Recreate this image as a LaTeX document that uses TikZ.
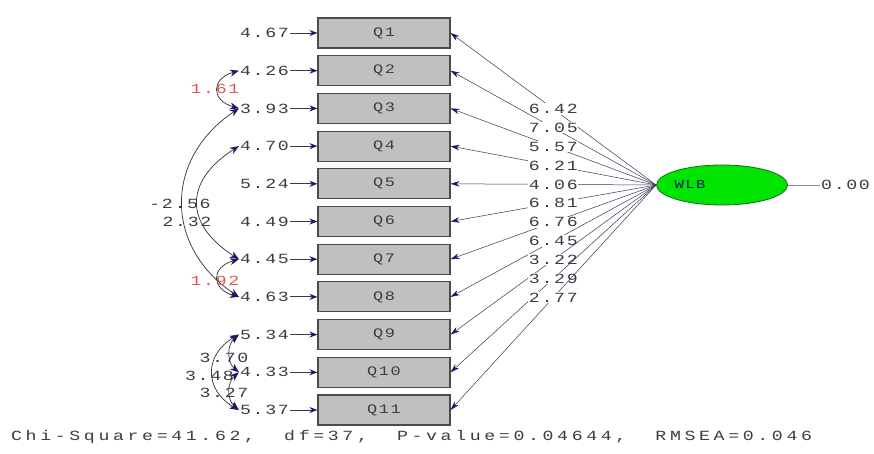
\documentclass[tikz,border=0pt]{standalone}
\usepackage{fontspec}
\usetikzlibrary{shapes.geometric,arrows.meta}
\newfontfamily\lis[FakeStretch=1.3,LetterSpace=12]{Liberation Mono}
\newfontfamily\lisfoot[FakeStretch=1.3,LetterSpace=26]{Liberation Mono}
\definecolor{txt}{RGB}{60,60,70}
\definecolor{navy}{RGB}{25,25,105}
\definecolor{boxfill}{RGB}{192,192,192}
\definecolor{boxline}{RGB}{75,75,75}
\definecolor{redlab}{RGB}{220,90,80}
\definecolor{wlbgreen}{RGB}{0,228,0}
\definecolor{linec}{RGB}{55,55,85}
\begin{document}
\begin{tikzpicture}[x=1pt,y=-1pt,
  lab/.style={font={\lis\fontsize{14pt}{14pt}\selectfont}, text=txt, inner sep=1pt},
  redl/.style={lab, text=redlab},
  qbox/.style={draw=boxline, fill=boxfill, line width=1.1pt, minimum width=132pt, minimum height=30pt, inner sep=0pt, font={\lis\fontsize{13pt}{13pt}\selectfont}, text=txt},
  errarrow/.style={draw=linec, line width=0.9pt, -{Stealth[length=8pt,width=6pt,color=navy,fill=navy]}},
  loadarrow/.style={draw=linec, line width=0.5pt, -{Stealth[length=9pt,width=5.5pt,color=navy,fill=navy]}},
  cov/.style={draw=black!80, line width=0.7pt, {Stealth[length=9pt,width=7pt,color=navy,fill=navy]}-{Stealth[length=9pt,width=7pt,color=navy,fill=navy]}},
  ldlab/.style={lab, fill=white, inner sep=0.8pt}]
\useasboundingbox (0,0) rectangle (874,454);
\fill[white] (0,0) rectangle (874,454);

% observed variables
\foreach \i in {1,...,11}{
  \node[qbox] (q\i) at (384,{33+(\i-1)*37.7}) {Q\i};
}

% error variances
\foreach \i/\v in {1/4.67,2/4.26,3/3.93,4/4.70,5/5.24,6/4.49,7/4.45,8/4.63,9/5.34,10/4.33,11/5.37}{
  \node[lab, anchor=east] (e\i) at (290,{33+(\i-1)*37.7}) {\v};
  \draw[errarrow] (e\i.east) -- (q\i.west);
}

% latent variable
\node[ellipse, draw={rgb,255:red,20;green,110;blue,20}, line width=0.8pt, fill=wlbgreen, minimum width=131pt, minimum height=40pt] (lat) at (722,185) {};
\node[font={\lis\fontsize{12pt}{12pt}\selectfont}, text=navy, inner sep=0pt] (wlbt) at (690,185) {WLB};
\node[lab, anchor=west] (zero) at (820,185) {0.00};
\draw[draw=black!45, line width=0.5pt] (lat.east) -- (zero.west);

% loadings
\foreach \i/\v in {1/6.42,2/7.05,3/5.57,4/6.21,5/4.06,6/6.81,7/6.76,8/6.45,9/3.22,10/3.29,11/2.77}{
  \draw[loadarrow] (lat.west) -- node[ldlab, pos=0.5] (l\i) {\v} (q\i.east);
}

% error covariances
\draw[cov] (e2.west) .. controls +(-28,8) and +(-28,-8) .. (e3.west);
\node[redl] (c23) at (215,89) {1.61};
\draw[cov] (e3.west) .. controls +(-75,50) and +(-75,-50) .. (e8.west);
\node[lab] (c38) at (180,204) {-2.56};
\draw[cov] (e4.west) .. controls +(-55,35) and +(-55,-35) .. (e7.west);
\node[lab] (c47) at (187,222) {2.32};
\draw[cov] (e7.west) .. controls +(-28,8) and +(-28,-8) .. (e8.west);
\node[redl] (c78) at (215,281) {1.92};
\draw[cov] (e9.west) .. controls +(-12,10) and +(-12,-10) .. (e10.west);
\node[lab] (c910) at (224,358) {3.70};
\draw[cov] (e9.west) .. controls +(-35,20) and +(-35,-20) .. (e11.west);
\node[lab, anchor=east] (c911) at (235,376) {3.48};
\draw[cov] (e10.west) .. controls +(-12,10) and +(-12,-10) .. (e11.west);
\node[lab] (c1011) at (224,393) {3.27};

% fit statistics
\node[font={\lisfoot\fontsize{14pt}{14pt}\selectfont}, text=txt, inner sep=1pt, anchor=west] (fit) at (10,437) {Chi-Square=41.62,~ df=37,~ P-value=0.04644,~ RMSEA=0.046};
\end{tikzpicture}
\end{document}
